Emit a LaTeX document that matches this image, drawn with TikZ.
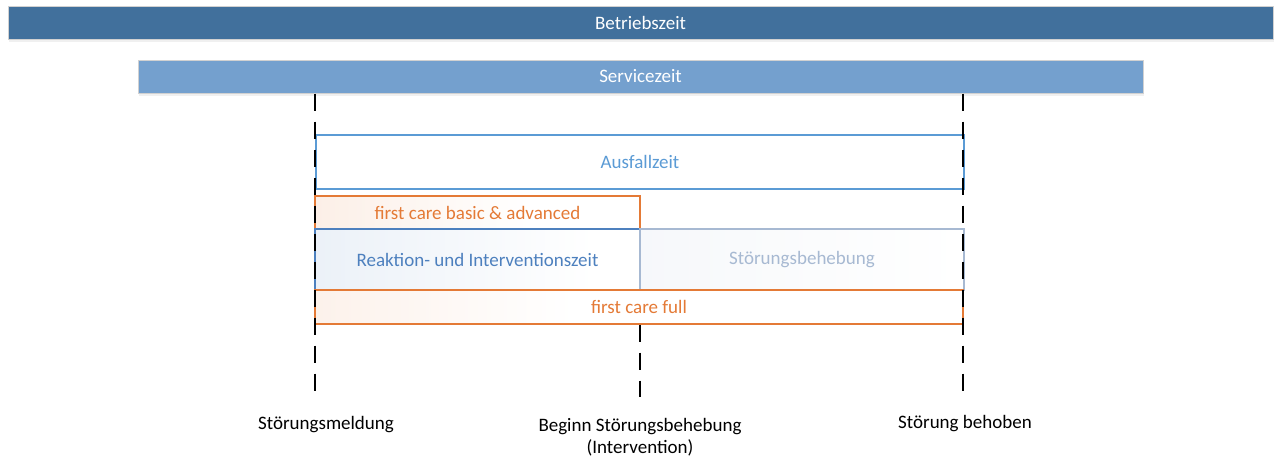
\documentclass[tikz,border=0pt]{standalone}
\usepackage{fontspec}
\setmainfont{Carlito}
\usetikzlibrary{shadows}
\definecolor{betriebblau}{HTML}{41709C}
\definecolor{serviceblau}{HTML}{74A0CE}
\definecolor{ausfallblau}{HTML}{5B9BD5}
\definecolor{reaktionblau}{HTML}{4D80BE}
\definecolor{behebgrau}{HTML}{A7B9D2}
\definecolor{fcorange}{HTML}{E47A36}
% Verlaeufe: Knoten liegt zwischen 25bp und 75bp
\pgfdeclarehorizontalshading{orangekurz}{100bp}{color(0bp)=(fcorange!12!white); color(25bp)=(fcorange!12!white); color(58bp)=(white); color(100bp)=(white)}
\pgfdeclarehorizontalshading{orangelang}{100bp}{color(0bp)=(fcorange!10!white); color(25bp)=(fcorange!10!white); color(45bp)=(white); color(100bp)=(white)}
\pgfdeclarehorizontalshading{blaukurz}{100bp}{color(0bp)=(reaktionblau!11!white); color(25bp)=(reaktionblau!11!white); color(68bp)=(white); color(100bp)=(white)}
\pgfdeclarehorizontalshading{graukurz}{100bp}{color(0bp)=(behebgrau!10!white); color(25bp)=(behebgrau!10!white); color(75bp)=(white); color(100bp)=(white)}

\begin{document}
\begin{tikzpicture}[x=1pt,y=-1pt,font=\fontsize{19}{22}\selectfont,
  balken/.style={rectangle,inner sep=0pt,text=white,draw=black!18,line width=1pt,
    drop shadow={opacity=0.12,shadow xshift=1pt,shadow yshift=-3pt}},
  zeit/.style={rectangle,inner sep=0pt,line width=1.3pt},
  marke/.style={black,line width=1.7pt,dash pattern=on 17pt off 11pt}]
\useasboundingbox (0,0) rectangle (1275,461);
% Balken oben
\node[balken,fill=betriebblau,minimum width=1265,minimum height=33] (betrieb) at (640.5,22.5) {Betriebszeit};
\node[balken,fill=serviceblau,minimum width=1005,minimum height=33] (service) at (640.5,76.5) {Servicezeit};
% Zeitabschnitte
\node[zeit,draw=ausfallblau,text=ausfallblau,fill=white,minimum width=648,minimum height=54] (ausfall) at (640,162) {Ausfallzeit};
\node[zeit,draw=fcorange,text=fcorange,shading=orangekurz,minimum width=325,minimum height=33] (basic) at (477.5,212.5) {first care basic \& advanced};
\node[zeit,draw=reaktionblau,text=reaktionblau,shading=blaukurz,minimum width=325,minimum height=61] (reaktion) at (477.5,259.5) {Reaktion- und Interventionszeit};
\node[zeit,draw=behebgrau,text=behebgrau,shading=graukurz,minimum width=324,minimum height=61] (behebung) at (802,259.5) {Störungsbehebung};
\node[zeit,draw=fcorange,text=fcorange,shading=orangelang,minimum width=648,minimum height=34] (full) at (639,307) {first care full};
% Zeitpunkte
\node (meldung) at (326,425) {Störungsmeldung};
\node[align=center] (beginn) at (640,437) {Beginn Störungsbehebung\\(Intervention)};
\node (behoben) at (965,424) {Störung behoben};
\coordinate (m1) at (315,397);
\coordinate (m2) at (640,397);
\coordinate (m3) at (963,397);
\draw[marke] (service.south -| m1) -- (m1);
\draw[marke] (full.south -| m2) -- (m2);
\draw[marke] (service.south -| m3) -- (m3);
\end{tikzpicture}
\end{document}
